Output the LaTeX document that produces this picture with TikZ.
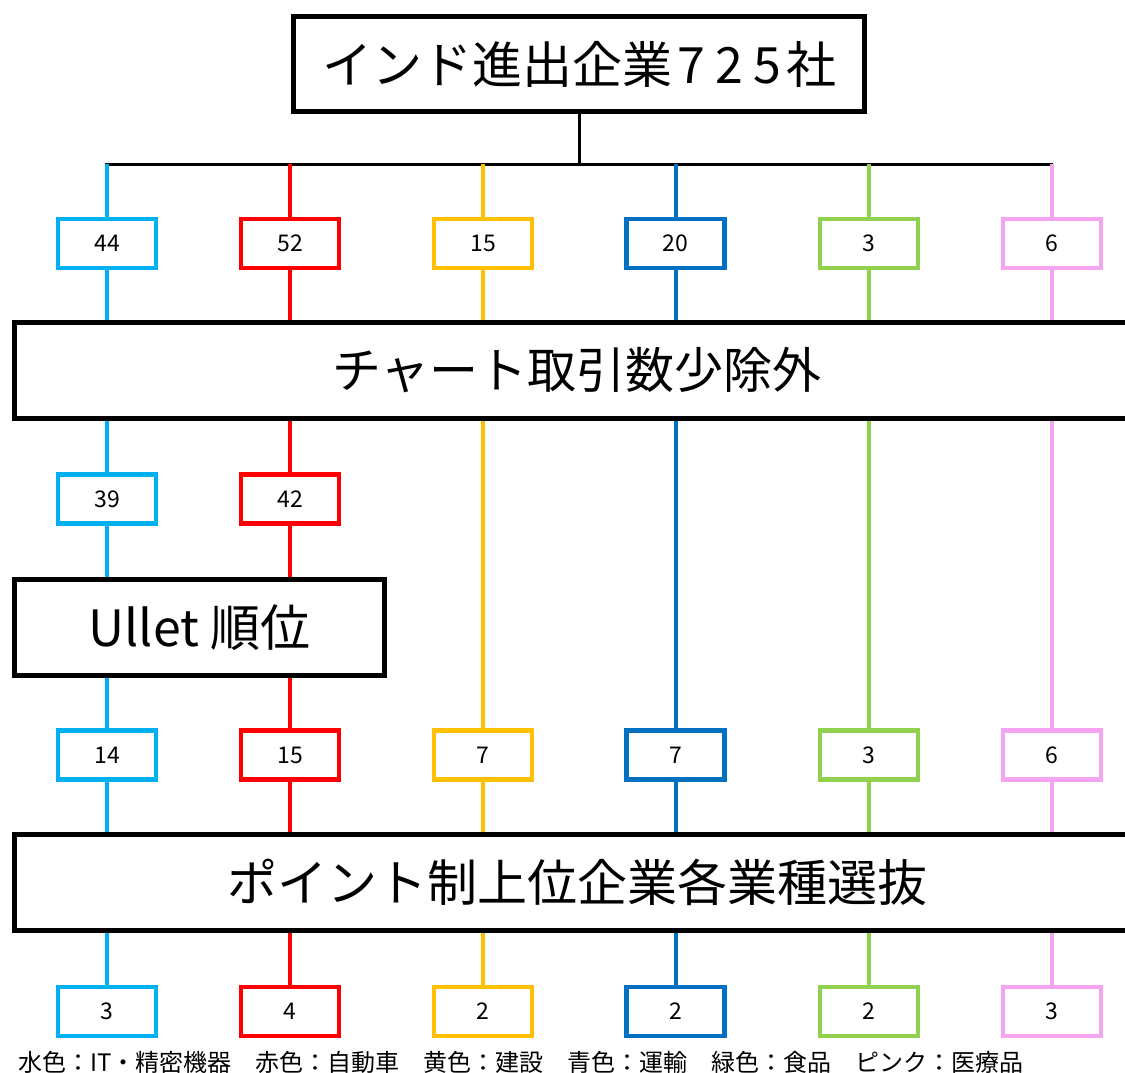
\documentclass[tikz,border=0pt]{standalone}
\usepackage{fontspec}
\setmainfont{Noto Sans CJK JP}
\definecolor{cyanC}{HTML}{00B0F0}
\definecolor{redC}{HTML}{FF0000}
\definecolor{yelC}{HTML}{FFC000}
\definecolor{bluC}{HTML}{0070C0}
\definecolor{grnC}{HTML}{92D050}
\definecolor{pnkC}{HTML}{F4A4F0}
\begin{document}
\begin{tikzpicture}[x=1pt,y=-1pt,
  bigbox/.style={draw=black,line width=5pt,fill=white,inner sep=0pt,font=\fontsize{50}{56}\selectfont},
  numbox/.style={draw=#1,line width=4.5pt,fill=white,minimum width=98pt,minimum height=49pt,inner sep=0pt,font=\fontsize{23}{26}\selectfont},
  wire/.style={draw=#1,line width=4pt},
  bus/.style={draw=black,line width=3pt},
]
\useasboundingbox[fill=white] (0,0) rectangle (1125,1073);

% big boxes
\node[bigbox,minimum width=571pt,minimum height=95pt] (top) at (579,64)
  {インド進出企業\makebox[38pt]{7}\makebox[38pt]{2}\makebox[38pt]{5}社};
\node[bigbox,minimum width=1125pt,minimum height=96pt,font=\fontsize{49}{56}\selectfont] (chart) at (577,370.5) {チャート取引数少除外};
\node[bigbox,minimum width=370pt,minimum height=96pt] (ullet) at (199.5,627.5) {Ullet 順位};
\node[bigbox,minimum width=1125pt,minimum height=96pt] (point) at (577,882.5) {ポイント制上位企業各業種選抜};

% bus
\coordinate (busL) at (105,164);
\coordinate (busR) at (1053,164);
\draw[bus] (busL) -- (busR);
\draw[bus] (top.south) -- (top.south |- busL);

% row 1
\node[numbox=cyanC] (a1) at (107,243.5) {44};
\node[numbox=redC]  (b1) at (290,243.5) {52};
\node[numbox=yelC]  (c1) at (483,243.5) {15};
\node[numbox=bluC]  (d1) at (675.5,243.5) {20};
\node[numbox=grnC]  (e1) at (869,243.5) {3};
\node[numbox=pnkC]  (f1) at (1052,243.5) {6};
% row 2
\node[numbox=cyanC] (a2) at (107,499) {39};
\node[numbox=redC]  (b2) at (290,499) {42};
% row 3
\node[numbox=cyanC] (a3) at (107,755) {14};
\node[numbox=redC]  (b3) at (290,755) {15};
\node[numbox=yelC]  (c3) at (483,755) {7};
\node[numbox=bluC]  (d3) at (675.5,755) {7};
\node[numbox=grnC]  (e3) at (869,755) {3};
\node[numbox=pnkC]  (f3) at (1052,755) {6};
% row 4
\node[numbox=cyanC] (a4) at (107,1011.5) {3};
\node[numbox=redC]  (b4) at (290,1011.5) {4};
\node[numbox=yelC]  (c4) at (483,1011.5) {2};
\node[numbox=bluC]  (d4) at (675.5,1011.5) {2};
\node[numbox=grnC]  (e4) at (869,1011.5) {2};
\node[numbox=pnkC]  (f4) at (1052,1011.5) {3};

% columns with the Ullet step
\foreach \n/\c in {a/cyanC,b/redC}{
  \draw[wire=\c] (\n1.north |- busL) -- (\n1.north);
  \draw[wire=\c] (\n1.south) -- (\n1.south |- chart.north);
  \draw[wire=\c] (chart.south -| \n2) -- (\n2.north);
  \draw[wire=\c] (\n2.south) -- (\n2.south |- ullet.north);
  \draw[wire=\c] (ullet.south -| \n3) -- (\n3.north);
  \draw[wire=\c] (\n3.south) -- (\n3.south |- point.north);
  \draw[wire=\c] (point.south -| \n4) -- (\n4.north);
}
% other columns
\foreach \n/\c in {c/yelC,d/bluC,e/grnC,f/pnkC}{
  \draw[wire=\c] (\n1.north |- busL) -- (\n1.north);
  \draw[wire=\c] (\n1.south) -- (\n1.south |- chart.north);
  \draw[wire=\c] (chart.south -| \n3) -- (\n3.north);
  \draw[wire=\c] (\n3.south) -- (\n3.south |- point.north);
  \draw[wire=\c] (point.south -| \n4) -- (\n4.north);
}

% legend
\node[anchor=west,inner sep=0pt,font=\fontsize{24}{28}\selectfont] (legend) at (18,1062)
  {水色：IT・精密機器　赤色：自動車　黄色：建設　青色：運輸　緑色：食品　ピンク：医療品};
\end{tikzpicture}
\end{document}
